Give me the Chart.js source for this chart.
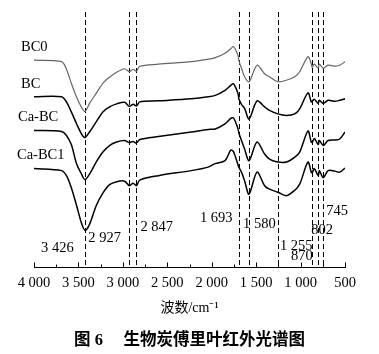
<!DOCTYPE html>
<html lang="zh">
<head>
<meta charset="UTF-8">
<title>生物炭傅里叶红外光谱图</title>
<script src="https://cdn.jsdelivr.net/npm/chart.js"></script>
<style>
    body { margin: 0; background: #fff; }
    .wrap { width: 379px; height: 354px; position: relative; }
</style>
</head>
<body>
<div class="wrap"><canvas id="ftirChart"></canvas></div>
<script>
    // wavenumber grid (cm-1) from left to right
    const wavenumbers = [4000, 3690, 3635, 3580, 3520, 3465, 3426, 3375, 3300, 3225, 3150, 3070, 2980,
        2927, 2885, 2847, 2810, 2600, 2230, 2040, 1960, 1850, 1785, 1755, 1705, 1693, 1665, 1630, 1580,
        1490, 1405, 1350, 1255, 1160, 1065, 1010, 917, 880, 870, 845, 802, 788, 745, 690, 615, 560, 500];

    // transmittance (a.u.), curves offset as stacked in the figure
    const bc0 = [206, 204.5, 197, 183, 169, 159, 155, 163, 173, 183, 189, 194, 197.5,
        194.5, 197, 195, 200, 202, 204.5, 207, 208.5, 213, 217.5, 219.5, 211, 205, 198, 189.5, 184.5,
        201, 192.5, 189.5, 184.5, 186, 189.5, 194.5, 209.5, 202.5, 199, 202, 198, 202, 198, 201, 200, 201, 204.5];
    const bc = [169.5, 169.5, 164.5, 154.5, 142.5, 132.5, 129, 134.5, 144.5, 154.5, 159.5, 162.5, 164,
        160, 162, 160.5, 164.5, 165.5, 167.5, 169.5, 171, 176, 181, 182.5, 173, 167, 162, 158, 147.5,
        165.5, 159.5, 156, 152.5, 151, 152.5, 157.5, 173.5, 164.5, 165, 167, 163, 166, 163, 166, 165, 166, 167.5];
    const caBc = [136, 135, 131, 122, 102.5, 92.5, 87, 92.5, 104.5, 114.5, 121, 124.5, 126,
        124, 125, 123.5, 127, 130, 134.5, 137, 137.5, 142.5, 148, 148.5, 138, 133, 126, 117.5, 106,
        124.5, 112.5, 107.5, 104.5, 104.5, 109.5, 114.5, 135.5, 124.5, 124, 128, 122, 126, 121, 126, 126.5, 127.5, 134.5];
    const caBc1 = [98, 96, 91, 79, 61, 43.5, 36.5, 42.5, 61, 73.5, 82, 85, 85.5,
        81, 83.5, 81, 86.5, 91, 96, 99.5, 103, 106, 116.5, 115, 102, 99, 94.5, 86, 72.5,
        94.5, 81, 77.5, 74.5, 71, 76.5, 82.5, 104.5, 94.5, 94, 98, 91, 96, 89, 96, 95.5, 94.5, 98.5];
    const seriesNames = ['BC0', 'BC', 'Ca-BC', 'Ca-BC1'];

    // marked absorption bands
    const peaks = [3426, 2927, 2847, 1693, 1580, 1255, 870, 802, 745];
    const peakLabels = ['3 426', '2 927', '2 847', '1 693', '1 580', '1 255', '870', '802', '745'];

    const xTickValues = [4000, 3500, 3000, 2500, 2000, 1500, 1000, 500];
    const xTickLabels = ['4 000', '3 500', '3 000', '2 500', '2 000', '1 500', '1 000', '500'];

    // text placement: [dx from the dashed line, dy above the axis]
    const peakLabelPos = [[-44, -19], [-41, -29], [4, -40], [-39, -49], [-6, -43], [2, -21], [-21, -11], [-7, -37], [3, -56]];
    const nameLabelX = [21, 21, 18, 17];

    const FONT = "'Liberation Serif', 'Noto Sans CJK SC', serif";
    Chart.defaults.font.family = FONT;
    Chart.defaults.color = '#000';

    const seriesData = [bc0, bc, caBc, caBc1];

    const ftirDecor = {
        id: 'ftirDecor',
        beforeDatasetsDraw(chart) {
            const {ctx, chartArea, scales: {x}} = chart;
            ctx.save();
            ctx.strokeStyle = '#000';
            ctx.lineWidth = 1;
            ctx.setLineDash([5, 3]);
            peaks.forEach(p => {
                const px = Math.round(x.getPixelForValue(p)) + 0.5;
                ctx.beginPath();
                ctx.moveTo(px, chartArea.top + 2);
                ctx.lineTo(px, chartArea.bottom);
                ctx.stroke();
            });
            ctx.restore();
        },
        afterDraw(chart) {
            const {ctx, chartArea, scales: {x, y}} = chart;
            ctx.save();
            // ticks pointing into the plot, minor every 250
            ctx.strokeStyle = '#000';
            ctx.lineWidth = 1;
            for (let v = 500; v <= 4000; v += 250) {
                const px = Math.round(x.getPixelForValue(v)) + 0.5;
                const len = v % 500 === 0 ? 4.5 : 2.5;
                ctx.beginPath();
                ctx.moveTo(px, chartArea.bottom);
                ctx.lineTo(px, chartArea.bottom - len);
                ctx.stroke();
            }
            ctx.fillStyle = '#000';
            ctx.font = '14.5px ' + FONT;
            ctx.textBaseline = 'middle';
            ctx.textAlign = 'left';
            peaks.forEach((p, i) => {
                const [dx, dy] = peakLabelPos[i];
                ctx.fillText(peakLabels[i], x.getPixelForValue(p) + dx, chartArea.bottom + dy);
            });
            seriesNames.forEach((name, i) => {
                ctx.fillText(name, nameLabelX[i], y.getPixelForValue(seriesData[i][0]) - 13);
            });
            ctx.restore();
        }
    };

    new Chart(document.getElementById('ftirChart'), {
        type: 'line',
        data: {
            datasets: seriesData.map((d, i) => ({
                label: seriesNames[i],
                data: wavenumbers.map((w, j) => ({x: w, y: d[j]})),
                borderColor: i === 0 ? '#666' : '#000',
                borderWidth: i === 0 ? 1.2 : 1.5,
                pointRadius: 0,
                tension: 0.3,
                fill: false
            }))
        },
        options: {
            responsive: true,
            maintainAspectRatio: false,
            animation: false,
            layout: {padding: {left: 34, right: 34, top: 10, bottom: 0}},
            plugins: {
                legend: {display: false},
                tooltip: {enabled: false},
                title: {
                    display: true,
                    position: 'bottom',
                    text: '图 6 \u3000生物炭傅里叶红外光谱图',
                    color: '#000',
                    font: {size: 16.5, weight: 'bold'},
                    padding: {top: 10, bottom: 3}
                }
            },
            scales: {
                x: {
                    type: 'linear',
                    reverse: true,
                    min: 500,
                    max: 4000,
                    afterBuildTicks: s => { s.ticks = xTickValues.map(v => ({value: v})); },
                    grid: {display: false, drawTicks: false},
                    border: {display: true, color: '#000', width: 1},
                    ticks: {
                        padding: 7,
                        color: '#000',
                        font: {size: 14.5},
                        maxRotation: 0,
                        autoSkip: false,
                        callback: v => xTickLabels[xTickValues.indexOf(v)]
                    },
                    title: {
                        display: true,
                        text: '波数/cm⁻¹',
                        color: '#000',
                        font: {size: 14},
                        padding: {top: 2, bottom: 4}
                    }
                },
                y: {display: false, min: 0, max: 256}
            }
        },
        plugins: [ftirDecor]
    });
</script>
</body>
</html>
